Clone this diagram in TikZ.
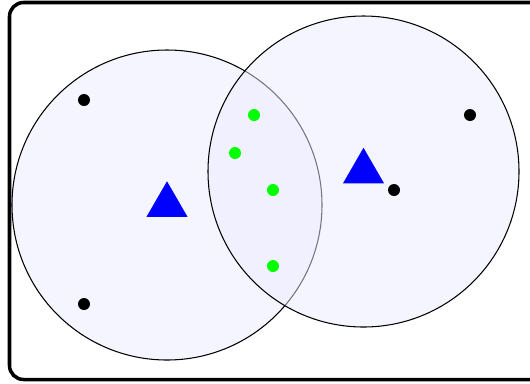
\documentclass[tikz,border=0pt]{standalone}
\usetikzlibrary{shapes.geometric}

\tikzset{
    zone/.style={draw=black, fill=blue!8, fill opacity=0.5, line width=0.6pt},
    outpt/.style={circle, fill=black, inner sep=0pt, minimum size=0.24cm},
    sharedpt/.style={circle, fill=green, inner sep=0pt, minimum size=0.24cm},
    centre/.style={regular polygon, regular polygon sides=3, fill=blue, inner sep=0pt, minimum size=0.95cm}
}

\begin{document}
\begin{tikzpicture}[x=0.02cm, y=-0.02cm]
        \useasboundingbox (0,0) rectangle (530,383);
        \clip (0,0) rectangle (530,383);

        % Frame
        \draw[line width=2pt, rounded corners=8pt] (9.5,2.5) rectangle (560,379.5);

        % Zones
        \draw[zone] (167,205) circle (155);
        \draw[zone] (363.5,171.5) circle (155.5);

        % Centres
        \node[centre] (cl) at (167,205) {};
        \node[centre] (cr) at (363.5,171.5) {};

        % Points outside the overlap
        \node[outpt] (p1) at (84,100) {};
        \node[outpt] (p2) at (84,304) {};
        \node[outpt] (p3) at (470,115) {};
        \node[outpt] (p4) at (394,190) {};

        % Points in the overlap
        \node[sharedpt] (s1) at (254,115) {};
        \node[sharedpt] (s2) at (235,153) {};
        \node[sharedpt] (s3) at (273,190) {};
        \node[sharedpt] (s4) at (273,266) {};
    \end{tikzpicture}
\end{document}
